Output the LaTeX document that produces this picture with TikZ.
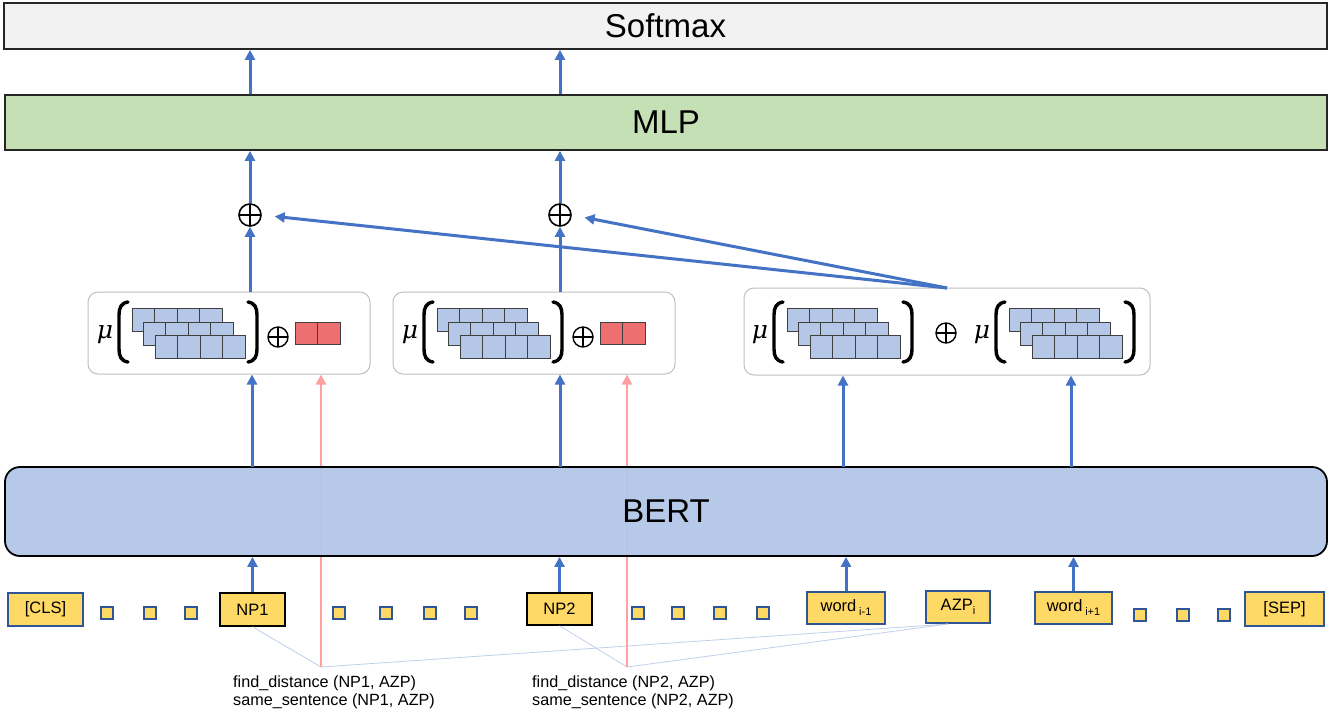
\documentclass[tikz,border=0pt]{standalone}
\usepackage{fontspec}
\setmainfont{Liberation Sans}
\newfontfamily\mufont{DejaVu Serif}
\usetikzlibrary{arrows.meta,calc}
\definecolor{ablue}{HTML}{4472C4}
\definecolor{pinkc}{HTML}{FFA0A0}
\definecolor{bertc}{HTML}{B4C7E7}
\definecolor{mlpc}{HTML}{C5E0B4}
\definecolor{softc}{HTML}{F2F2F2}
\definecolor{tokc}{HTML}{FFD966}
\definecolor{tokb}{HTML}{2F5597}
\definecolor{redc}{HTML}{EE6F6F}
\definecolor{thinc}{HTML}{C0D0EC}
\definecolor{sqb}{HTML}{404040}

\tikzset{
  bigbox/.style={draw=black!85, line width=1.8pt, inner sep=0pt, font=\fontsize{33}{36}\selectfont},
  mubox/.style={draw=black!25, line width=1pt, fill=white, rounded corners=10pt, inner sep=0pt},
  barrow/.style={draw=ablue, line width=3pt, -{Triangle[length=10pt,width=10pt]}},
  parrow/.style={draw=pinkc, line width=2.6pt, -{Triangle[length=10pt,width=10pt]}},
  thinline/.style={draw=thinc, line width=0.8pt},
  opl/.style={circle, draw=black, line width=1.6pt, minimum size=22pt, inner sep=0pt,
    path picture={\draw[line width=1.4pt] (path picture bounding box.north) -- (path picture bounding box.south)
      (path picture bounding box.west) -- (path picture bounding box.east);}},
  mutext/.style={font=\mufont\itshape\fontsize{25}{25}\selectfont, inner sep=0pt},
  brk/.style={draw=black, line width=3.4pt, line cap=round},
  bsq/.style={draw=sqb, line width=1pt, fill=bertc},
  rsq/.style={draw=sqb, line width=1pt, fill=redc},
  tok/.style={draw=tokb, fill=tokc, line width=1.4pt, inner sep=0pt, minimum height=33pt, font=\fontsize{16.5}{18}\selectfont},
  tokk/.style={tok, draw=black},
  dot/.style={draw=tokb, fill=tokc, line width=1.2pt, inner sep=0pt, minimum size=12pt},
  lbl/.style={font=\fontsize{16.2}{18}\selectfont, align=left, inner sep=0pt, anchor=north west}
}

\newcommand{\MuGroup}[2]{%
\begin{scope}[shift={(#1,#2)}]
  \node[mutext] at (0,0) {μ};
  \draw[brk] (23,-33) .. controls (16,-32) and (14,-27) .. (14,-20) -- (14,14) .. controls (14,21) and (16,26) .. (23,27);
  \draw[brk] (143,-33) .. controls (150,-32) and (152,-27) .. (152,-20) -- (152,14) .. controls (152,21) and (150,26) .. (143,27);
  \foreach \ox/\oy in {27/-27,38/-13,50/0}{
    \foreach \k in {0,...,3}{
      \draw[bsq] ({\ox+\k*22.5},\oy) rectangle ++(22.5,23);
    }
  }
\end{scope}}

\newcommand{\SmallOplus}[2]{%
  \draw[line width=1.4pt] (#1,#2) circle (10pt);
  \draw[line width=1.2pt] (#1-10,#2) -- (#1+10,#2) (#1,#2-10) -- (#1,#2+10);}

\begin{document}
\begin{tikzpicture}[x=1pt,y=-1pt]
\fill[white] (0,0) rectangle (1343,716);
\useasboundingbox (0,0) rectangle (1343,716);

% top boxes
\node[bigbox, fill=softc, minimum width=1323pt, minimum height=46pt] (soft) at (665.5,26) {Softmax};
\node[bigbox, fill=mlpc, minimum width=1322pt, minimum height=55pt] (mlp) at (666,122.5) {MLP};

% mu boxes
\node[mubox, minimum width=282pt, minimum height=82pt] (mu1) at (229,333) {};
\node[mubox, minimum width=282pt, minimum height=82pt] (mu2) at (534,333) {};
\node[mubox, minimum width=406pt, minimum height=87pt] (mu3) at (947,331.5) {};

\MuGroup{105}{335}
\MuGroup{410}{335}
\MuGroup{760}{335}
\MuGroup{982}{335}
\SmallOplus{278}{337}
\SmallOplus{583}{337}
\SmallOplus{946}{333}
\foreach \bx in {295,600}{
  \draw[rsq] (\bx,322) rectangle ++(22.5,22);
  \draw[rsq] (\bx+22.5,322) rectangle ++(22.5,22);
}

% plus nodes
\node[opl] (p1) at (250,215) {};
\node[opl] (p2) at (560,215) {};

% arrows upper part
\draw[barrow] (p1.north) -- (p1.north |- mlp.south);
\draw[barrow] (p2.north) -- (p2.north |- mlp.south);
\draw[barrow] (p1.north |- mlp.north) -- (p1.north |- soft.south);
\draw[barrow] (p2.north |- mlp.north) -- (p2.north |- soft.south);
\draw[barrow] (p1.south |- mu1.north) -- (p1.south);
\draw[barrow] (p2.south |- mu2.north) -- (p2.south);
\coordinate (src) at (947,288);
\draw[barrow, shorten >=13pt] (src) -- (p1.east);
\draw[barrow, shorten >=13pt] (src) -- (p2.east);

% tokens
\node[tok, minimum width=75pt] (cls) at (45.5,609.5) {[CLS]};
\node[tokk, minimum width=65pt] (np1) at (252.5,609.5) {NP1};
\node[tokk, minimum width=65pt, minimum height=32pt] (np2) at (559.5,609) {NP2};
\node[tok, minimum width=78pt, minimum height=32pt] (wim) at (846,608) {word\,{\fontsize{11}{11}\selectfont\raisebox{-4pt}{i-1}}};
\node[tok, minimum width=64pt, minimum height=32pt] (azp) at (958,607) {AZP{\fontsize{11}{11}\selectfont\raisebox{-4pt}{i}}};
\node[tok, minimum width=77pt, minimum height=32pt] (wip) at (1073.5,608) {word\,{\fontsize{11}{11}\selectfont\raisebox{-4pt}{i+1}}};
\node[tok, minimum width=79pt, minimum height=34pt] (sep) at (1284.5,609) {[SEP]};
\foreach \n/\px/\py in {a/107/613,b/150/613,c/191/613,d/339/613,e/386/613,f/430/613,g/471/613,h/638/613,i/678/613,j/720/613,k/763/613,l/1140/615,m/1183/615,n/1224/615}{
  \node[dot] (dot\n) at (\px,\py) {};
}

% feature coordinates and thin lines
\coordinate (f1) at (321,667);
\coordinate (f2) at (627,667);
\coordinate (azpb) at (948,624);
\draw[thinline] (np1.south) -- (f1) -- (azpb);
\draw[thinline] (np2.south) -- (f2) -- (azpb);

% pink arrows (behind BERT)
\draw[parrow] (f1) -- (f1 |- mu1.south);
\draw[parrow] (f2) -- (f2 |- mu2.south);

% BERT
\node[bigbox, draw=black, fill=bertc, fill opacity=0.95, text opacity=1, rounded corners=15pt, minimum width=1322pt, minimum height=89pt] (bert) at (666,511.5) {BERT};

% arrows BERT -> mu boxes
\coordinate (b1) at (252,467);
\coordinate (b2) at (560,467);
\coordinate (b3) at (843,467);
\coordinate (b4) at (1071,467);
\draw[barrow] (b1) -- (b1 |- mu1.south);
\draw[barrow] (b2) -- (b2 |- mu2.south);
\draw[barrow] (b3) -- (b3 |- mu3.south);
\draw[barrow] (b4) -- (b4 |- mu3.south);

% tokens -> BERT
\draw[barrow] (np1.north) -- (np1.north |- bert.south);
\draw[barrow] (np2.north) -- (np2.north |- bert.south);
\draw[barrow] (wim.north) -- (wim.north |- bert.south);
\draw[barrow] (wip.north) -- (wip.north |- bert.south);

% labels
\node[lbl] (l1) at (233,676) {find\_distance (NP1, AZP)\\same\_sentence (NP1, AZP)};
\node[lbl] (l2) at (532,676) {find\_distance (NP2, AZP)\\same\_sentence (NP2, AZP)};
\end{tikzpicture}
\end{document}
